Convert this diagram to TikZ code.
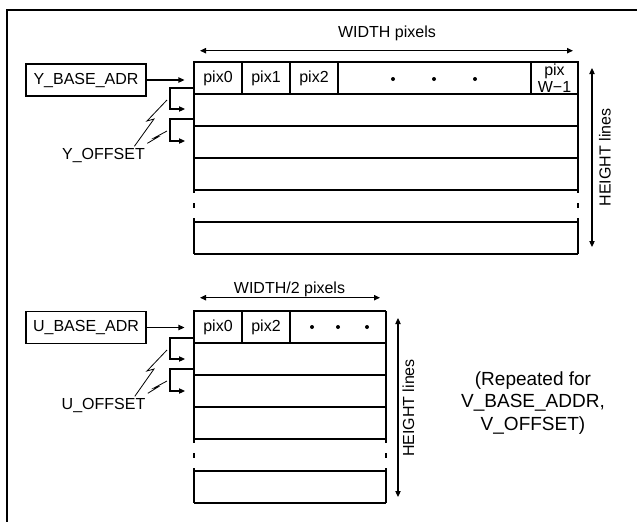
\documentclass[tikz,border=0pt]{standalone}
\usepackage{fontspec}
\setmainfont{Liberation Sans}
\usetikzlibrary{arrows.meta,positioning}

\begin{document}
\begin{tikzpicture}[x=0.75pt,y=-0.75pt,line width=0.8pt,
    lbl/.style={font=\fontsize{12}{13}\selectfont,inner sep=0pt},
    basebox/.style={draw,minimum width=90pt,minimum height=24pt,
                    font=\fontsize{12}{13}\selectfont,inner sep=0pt},
    cell/.style={draw,minimum width=36pt,minimum height=24pt,
                 font=\fontsize{12}{13}\selectfont,inner sep=0pt},
    arr/.style={-{Triangle[length=4.5pt,width=4pt]}},
    dbl/.style={{Triangle[length=4.5pt,width=4pt]}-{Triangle[length=4.5pt,width=4pt]}},
]

\useasboundingbox (0,0) rectangle (637,522);

% ---- Frame ---------------------------------------------------------------
\draw[line width=1.5pt] (7,522) -- (7,9.5) -- (637,9.5);

% ==== Y plane =============================================================
% ---- Lines of the plane --------------------------------------------------
\foreach \y in {62,94,126,158,190,222,254}
    \draw (194,\y) -- (578,\y);
\foreach \x in {194,578} {
    \draw (\x,62) -- (\x,193);
    \draw (\x,203) -- (\x,208);
    \draw (\x,218) -- (\x,254);
}

% ---- First line: pixels --------------------------------------------------
\node[cell] (ypix0) at (218,78) {pix0};
\node[cell] (ypix1) at (266,78) {pix1};
\node[cell] (ypix2) at (314,78) {pix2};
\node[cell,minimum width=35.25pt,align=center,
      font=\fontsize{12}{12.75}\selectfont] (ypixw) at (554.5,78) {pix\\W−1};
\foreach \x in {393,434,475}
    \fill (\x,79) circle (1.5pt);

% ---- Width / height ------------------------------------------------------
\coordinate (ywl) at (200,50.7);
\coordinate (ywr) at (573,50.7);
\draw[dbl] (ywl) -- (ywr);
\node[lbl] (ywidth) at (387,33) {WIDTH pixels};

\coordinate (yht) at (592,68);
\coordinate (yhb) at (592,247);
\draw[dbl] (yht) -- (yhb);
\node[lbl,rotate=90] (yheight) at (605,157.5) {HEIGHT lines};

% ---- Base address and offset ---------------------------------------------
\node[basebox] (ybase) at (86,80) {Y\_BASE\_ADR};
\draw[arr] (ybase.east) -- ([xshift=-6.75pt]ybase.east -| ypix0.west);

\coordinate (yo1) at (194,88);
\coordinate (yo2) at (194,119);
\draw[arr] (yo1) -- ++(-24,0) -- ++(0,21) -- ++(15,0);
\draw[arr] (yo2) -- ++(-24,0) -- ++(0,22) -- ++(15,0);

\node[lbl,anchor=base] (yoff) at (103.5,159) {Y\_OFFSET};
\coordinate (yb1) at (167,100);
\coordinate (yb2) at (167,131);
\draw[line width=0.6pt] ([shift={(-11,-1)}]yoff.north east)
    -- (154,119) -- (147,121) -- (yb1);
\draw[line width=0.6pt] ([shift={(2,-4)}]yoff.north east)
    -- (158,137) -- (154,138) -- (yb2);

% ==== U plane =============================================================
% ---- Lines of the plane --------------------------------------------------
\foreach \y in {311,343,375,407,439,471,503}
    \draw (194,\y) -- (386,\y);
\foreach \x in {194,386} {
    \draw (\x,311) -- (\x,443);
    \draw (\x,453) -- (\x,458);
    \draw (\x,468) -- (\x,503);
}

% ---- First line: pixels --------------------------------------------------
\node[cell] (upix0) at (218,327) {pix0};
\node[cell] (upix2) at (266,327) {pix2};
\foreach \x in {312,338,367}
    \fill (\x,327) circle (1.5pt);

% ---- Width / height ------------------------------------------------------
\coordinate (uwl) at (200,297.7);
\coordinate (uwr) at (380,297.7);
\draw[dbl] (uwl) -- (uwr);
\node[lbl] (uwidth) at (289.5,289) {WIDTH/2 pixels};

\coordinate (uht) at (398,318);
\coordinate (uhb) at (398,497);
\draw[dbl] (uht) -- (uhb);
\node[lbl,rotate=90] (uheight) at (408.5,408) {HEIGHT lines};

% ---- Base address and offset ---------------------------------------------
\node[basebox] (ubase) at (86,327.5) {U\_BASE\_ADR};
\draw[arr] (ubase.east) -- ([xshift=-6.75pt]ubase.east -| upix0.west);

\coordinate (uo1) at (194,338);
\coordinate (uo2) at (194,369);
\draw[arr] (uo1) -- ++(-24,0) -- ++(0,21) -- ++(15,0);
\draw[arr] (uo2) -- ++(-24,0) -- ++(0,22) -- ++(15,0);

\node[lbl,anchor=base] (uoff) at (103.5,409) {U\_OFFSET};
\coordinate (ub1) at (167,350);
\coordinate (ub2) at (167,381);
\draw[line width=0.6pt] ([shift={(-11,-1)}]uoff.north east)
    -- (154,369) -- (147,371) -- (ub1);
\draw[line width=0.6pt] ([shift={(2,-4)}]uoff.north east)
    -- (158,387) -- (154,388) -- (ub2);

% ---- V plane note --------------------------------------------------------
\node[align=center,inner sep=0pt,font=\fontsize{14.25}{16.9}\selectfont]
    (vnote) at (533,403) {(Repeated for\\V\_BASE\_ADDR,\\V\_OFFSET)};

\end{tikzpicture}
\end{document}
